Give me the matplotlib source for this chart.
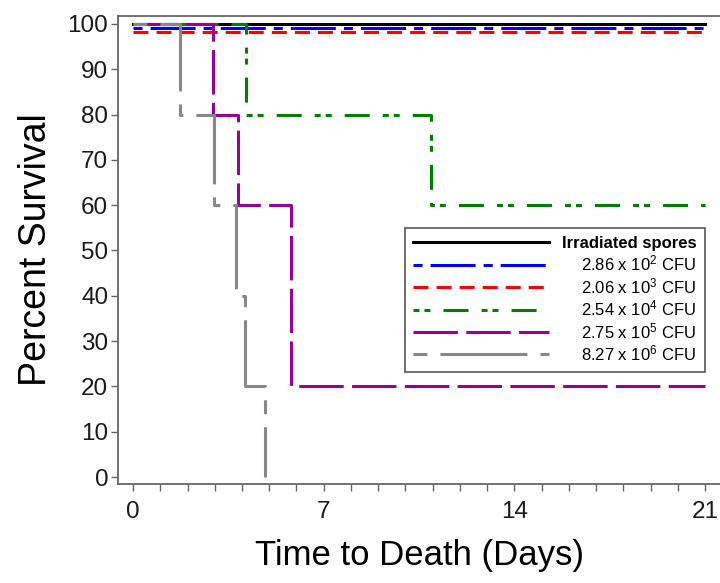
import matplotlib
matplotlib.use("Agg")
import matplotlib.pyplot as plt
from matplotlib.ticker import MultipleLocator

plt.rcParams['font.family'] = ['Liberation Sans', 'DejaVu Sans']
plt.rcParams['mathtext.fontset'] = 'custom'
plt.rcParams['mathtext.rm'] = 'Liberation Sans'
plt.rcParams['mathtext.default'] = 'regular'
plt.rcParams['lines.scale_dashes'] = False

# survival step data (day of change, percent surviving)
irr_days = [0, 21]
irr_surv = [100, 100]
b_days = [0, 21]
b_surv = [99.1, 99.1]
r_days = [0, 21]
r_surv = [98.2, 98.2]
g_days = [0, 4.15, 10.95, 21]
g_surv = [100, 80, 60, 60]
p_days = [0, 2.93, 3.85, 5.8, 21]
p_surv = [100, 80, 60, 20, 20]
k_days = [0, 1.72, 2.97, 3.77, 4.1, 4.83]
k_surv = [100, 80, 60, 40, 20, 0]

labels = ['Irradiated spores',
          r'2.86 x 10$^{2}$ CFU',
          r'2.06 x 10$^{3}$ CFU',
          r'2.54 x 10$^{4}$ CFU',
          r'2.75 x 10$^{5}$ CFU',
          r'8.27 x 10$^{6}$ CFU']

fig = plt.figure(figsize=(7.2, 5.83), dpi=100)
ax = fig.add_axes([0.164, 0.170, 0.836, 0.803])

lw = 2.2
series = [
    (irr_days, irr_surv, 'black', '-'),
    (b_days, b_surv, '#0000ff', (0, (6.5, 5.8, 32.4, 5.8))),
    (r_days, r_surv, '#ff0000', (0, (10.8, 5.8))),
    (g_days, g_surv, '#008000', (0, (4.3, 3.6, 4.3, 9.4, 18, 9.4))),
    (p_days, p_surv, '#990099', (0, (32, 6))),
    (k_days, k_surv, '#888888', (0, (10, 9.4, 62.6, 9.4))),
]
handles = []
for (d, s, c, ls), lab in zip(series, labels):
    h, = ax.plot(d, s, drawstyle='steps-post', color=c, linestyle=ls, lw=lw, label=lab)
    handles.append(h)

ax.set_xlim(-0.55, 21.55)
ax.set_ylim(-1.5, 101.8)
ax.xaxis.set_major_locator(MultipleLocator(7))
ax.xaxis.set_minor_locator(MultipleLocator(1))
ax.yaxis.set_major_locator(MultipleLocator(10))

for sp in ['left', 'bottom', 'top']:
    ax.spines[sp].set_color('#666666')
    ax.spines[sp].set_linewidth(1.3)
ax.spines['right'].set_visible(False)

ax.tick_params(axis='both', which='major', labelsize=17.5, length=5, width=1, color='#666666',
               labelcolor='#1a1a1a')
ax.tick_params(axis='x', which='minor', length=5, width=1, color='#666666')
ax.tick_params(axis='x', which='major', pad=7)
ax.tick_params(axis='y', which='major', pad=2)

ax.set_xlabel('Time to Death (Days)', fontsize=25, labelpad=12)
ax.set_ylabel('Percent Survival', fontsize=27, labelpad=10)

leg = ax.legend(handles=handles, loc='upper left', bbox_to_anchor=(405 / 720, 1 - 228 / 583),
                bbox_transform=fig.transFigure, fontsize=12, handlelength=8.16,
                labelspacing=0.15, handletextpad=1.0, borderpad=0.5, borderaxespad=0,
                fancybox=False, framealpha=1, edgecolor='#555555')
leg.get_frame().set_linewidth(1.2)
leg.get_texts()[0].set_fontweight('bold')

# right-align the legend texts while keeping the handles on the left
col = leg._legend_handle_box.get_children()[0]
for item in col.get_children():
    item.mode = 'expand'
    item.width = 283

fig.savefig('out.png', dpi=100)
